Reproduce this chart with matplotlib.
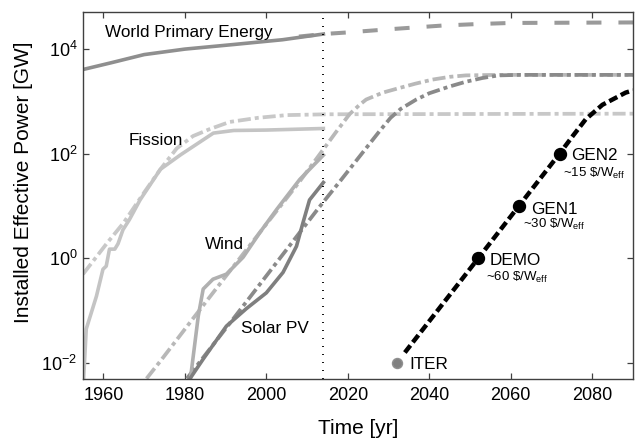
import matplotlib
matplotlib.use("Agg")
import matplotlib.pyplot as plt

plt.rcParams['font.family'] = ['Liberation Sans', 'DejaVu Sans']
plt.rcParams['mathtext.fontset'] = 'custom'
plt.rcParams['mathtext.rm'] = 'Liberation Sans'
plt.rcParams['mathtext.it'] = 'Liberation Sans:italic'
plt.rcParams['mathtext.default'] = 'regular'
plt.rcParams['axes.unicode_minus'] = False
plt.rcParams['lines.scale_dashes'] = False

# World primary energy [GW], historic and projected
world_years = [1955, 1962, 1970, 1980, 1992, 2004, 2014]
world_gw = [4000, 5400, 7700, 9800, 12000, 14800, 19000]
world_proj_years = [2008, 2014, 2020, 2030, 2043, 2052, 2060, 2090]
world_proj_gw = [17000, 19000, 20400, 23400, 27500, 29500, 30900, 31600]

# Fission
fission_years = [1955, 1955.8, 1958.3, 1959.9, 1960.7, 1961.5, 1962.8, 1963.6,
                 1964.8, 1966.4, 1969, 1974, 1979, 1987, 1992, 2000, 2014]
fission_gw = [0.003, 0.045, 0.19, 0.62, 0.71, 1.5, 1.5, 1.9,
              3.5, 5.5, 13, 50, 95, 245, 275, 280, 300]
fission_fit_years = [1955, 1958, 1961, 1965, 1970, 1974, 1978, 1982, 1986,
                     1991, 1998, 2005, 2015, 2090]
fission_fit_gw = [0.5, 1.0, 2.0, 4.8, 18, 50, 125, 215, 290,
                  400, 480, 540, 560, 575]

# Wind
wind_years = [1981, 1983.3, 1984.5, 1986.9, 1990.2, 1994.3, 1998.4, 2002.5, 2008.2, 2014]
wind_gw = [0.003, 0.08, 0.26, 0.4, 0.5, 1.05, 3.1, 8.5, 32, 93]
wind_fit_years = [1970.6, 1974, 1982, 1990, 2000, 2008, 2014, 2017, 2020.4,
                  2022.9, 2024.5, 2028.6, 2032.7, 2036.5, 2040.8, 2045, 2049,
                  2057, 2090]
wind_fit_gw = [0.0051, 0.011, 0.071, 0.45, 4.5, 28, 120, 250, 560,
               850, 1070, 1450, 1780, 2140, 2570, 2900, 3090,
               3160, 3160]

# Solar PV
solar_years = [1981, 1981.2, 1984.5, 1990.2, 1995.1, 2000, 2004.1, 2007.4, 2009, 2010.6, 2014]
solar_gw = [0.003, 0.005, 0.012, 0.051, 0.11, 0.22, 0.54, 1.7, 4.8, 13, 28]
solar_fit_years = [1980.5, 1992.6, 2013, 2018, 2028, 2030.5, 2033, 2036.8,
                   2040, 2045, 2049, 2053, 2057, 2062, 2090]
solar_fit_gw = [0.0051, 0.083, 9.5, 29, 280, 480, 710, 1070,
                1410, 1900, 2340, 2750, 3090, 3160, 3160]

# Fusion roadmap
fusion_years = [2034, 2052, 2062, 2072, 2075.2, 2078.4, 2082.5, 2088.2, 2090]
fusion_gw = [0.016, 1, 10, 100, 215, 450, 850, 1450, 1600]
milestone_names = ['ITER', 'DEMO', 'GEN1', 'GEN2']
milestone_years = [2032, 2052, 2062, 2072]
milestone_gw = [0.01, 1, 10, 100]
milestone_costs = ['', '~60', '~30', '~15']

px = 0.72  # points per pixel at dpi 100

fig = plt.figure(figsize=(6.36, 4.4), dpi=100)
ax = fig.add_axes([83 / 636, 61 / 440, 550 / 636, 367 / 440])

# projections / fits
ax.plot(world_proj_years, world_proj_gw, color='#9a9a9a', lw=2.9,
        dashes=[15 * px, 17 * px], solid_capstyle='butt')
ax.plot(fission_fit_years, fission_fit_gw, color='#c8c8c8', lw=2.7,
        dashes=[13 * px, 4 * px, 4 * px, 4 * px])
ax.plot(wind_fit_years, wind_fit_gw, color='#b8b8b8', lw=2.7,
        dashes=[13 * px, 4 * px, 4 * px, 4 * px])
ax.plot(solar_fit_years, solar_fit_gw, color='#8a8a8a', lw=2.7,
        dashes=[13 * px, 4 * px, 4 * px, 4 * px])

# historic data
ax.plot(world_years, world_gw, color='#8f8f8f', lw=2.6)
ax.plot(fission_years, fission_gw, color='#c4c4c4', lw=2.6)
ax.plot(wind_years, wind_gw, color='#b0b0b0', lw=2.6)
ax.plot(solar_years, solar_gw, color='#7f7f7f', lw=2.6)

# today
ax.axvline(2014, color='black', lw=1.3, dashes=[1 * px, 7 * px])

# fusion
ax.plot(fusion_years, fusion_gw, color='black', lw=3.2,
        dashes=[9 * px, 4 * px], zorder=5)
ax.plot(milestone_years[:1], milestone_gw[:1], 'o', color='#808080',
        ms=7.2, mec='#909090', zorder=6)
ax.plot(milestone_years[1:], milestone_gw[1:], 'o', color='black',
        ms=8.6, zorder=6)

# labels
ax.text(1960.3, 10 ** 4.23, 'World Primary Energy', fontsize=12.3)
ax.text(1966.1, 10 ** 2.17, 'Fission', fontsize=12.3)
ax.text(1984.9, 10 ** 0.17, 'Wind', fontsize=12.3)
ax.text(1993.9, 10 ** -1.43, 'Solar PV', fontsize=12.3)
ax.text(2035.1, 10 ** -2.11, 'ITER', fontsize=12.3)

name_pos = [(2054.9, -0.12), (2065.1, 0.85), (2074.8, 1.87)]
cost_pos = [(2053.8, -0.43), (2063.0, 0.58), (2072.7, 1.55)]
for name, cost, npos, cpos in zip(milestone_names[1:], milestone_costs[1:],
                                  name_pos, cost_pos):
    ax.text(npos[0], 10 ** npos[1], name, fontsize=12.3)
    ax.text(cpos[0], 10 ** cpos[1], cost + r' \$/W$_{\rm eff}$', fontsize=9.5)

ax.set_yscale('log')
ax.set_xlim(1955, 2090)
ax.set_ylim(5e-3, 5e4)
ax.set_xticks([1960, 1980, 2000, 2020, 2040, 2060, 2080])
ax.set_yticks([1e-2, 1e0, 1e2, 1e4])
ax.minorticks_off()
ax.tick_params(direction='in', length=4.5, width=0.9, top=True, right=True,
               labelsize=13, color='#404040')
ax.tick_params(axis='x', pad=6)
ax.tick_params(axis='y', pad=4)
for s in ax.spines.values():
    s.set_color('#404040')
    s.set_linewidth(1.0)

ax.set_xlabel('Time [yr]', fontsize=15)
ax.set_ylabel('Installed Effective Power [GW]', fontsize=15)
ax.xaxis.set_label_coords(0.5, -0.108)
ax.yaxis.set_label_coords(-0.09, 0.535)

fig.savefig('out.png', dpi=100)
